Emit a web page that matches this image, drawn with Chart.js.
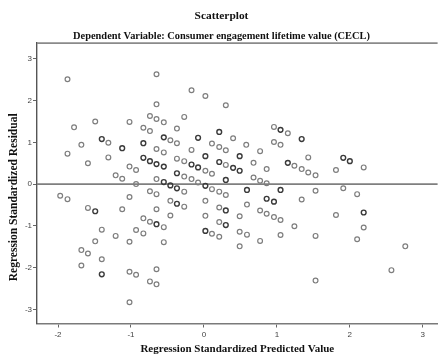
<!DOCTYPE html>
<html>
<head>
<meta charset="utf-8">
<script src="https://cdn.jsdelivr.net/npm/chart.js@4"></script>
<style>
html,body{margin:0;padding:0;background:#fff;}
#wrap{width:443px;height:360px;position:relative;}
</style>
</head>
<body>
<div id="wrap"><canvas id="c" width="443" height="360"></canvas></div>
<script>
// ---- Data (regression standardized predicted value vs. residual) ----
const lightX = [-1.87,-0.65,-0.65,-0.74,-0.65,-0.55,-1.78,-1.49,-1.02,-0.83,-0.74,-0.37,-1.31,-1.68,-0.46,-0.37,-1.87,-1.59,-1.31,-0.65,-0.55,-0.37,-1.02,-0.93,-1.21,-1.12,-0.65,-0.93,
  -0.17,0.02,0.30,-0.27,0.40,0.11,0.21,0.30,0.58,0.77,-0.17,-0.27,0.02,0.11,0.30,0.68,0.86,0.96,1.15,0.96,1.05,1.24,1.34,1.43,-0.27,-0.17,-0.08,0.68,0.77,0.86,
  -0.27,0.11,0.21,0.30,-0.46,-0.27,0.02,0.21,0.59,1.34,-0.46,0.02,0.21,0.49,0.77,0.86,0.96,1.05,1.24,0.11,0.21,0.49,0.59,1.05,0.49,0.77,
  -1.97,-1.87,-1.59,-1.02,-1.12,-0.74,-0.65,-0.65,-0.83,-0.74,-0.55,-1.40,-0.93,-0.83,-1.21,-1.49,-1.02,-0.55,-1.68,-1.59,-1.40,-1.68,-1.02,-0.93,-0.65,-0.74,-0.65,-1.02,
  1.43,1.53,1.81,2.19,1.53,1.91,2.10,1.81,2.19,1.53,2.10,2.76,2.57,1.53];
const lightY = [2.51,2.63,1.91,1.63,1.56,1.48,1.36,1.50,1.49,1.35,1.27,1.33,0.99,0.94,1.05,0.98,0.73,0.50,0.64,0.84,0.76,0.61,0.42,0.34,0.21,0.13,0.12,0.00,
  2.25,2.11,1.89,1.61,1.10,0.97,0.89,0.81,0.94,0.79,0.82,0.55,0.32,0.25,0.46,0.51,0.36,1.37,1.22,1.01,0.94,0.44,0.36,0.64,0.18,0.12,0.04,0.16,0.08,0.02,
  -0.18,-0.12,-0.18,-0.26,-0.40,-0.54,-0.40,-0.56,-0.49,-0.37,-0.75,-0.76,-0.91,-0.77,-0.63,-0.71,-0.79,-0.86,-1.01,-1.19,-1.26,-1.14,-1.21,-1.22,-1.49,-1.36,
  -0.28,-0.36,-0.57,-0.31,-0.60,-0.17,-0.24,-0.60,-0.82,-0.90,-1.03,-1.09,-1.10,-1.18,-1.24,-1.37,-1.38,-1.39,-1.58,-1.66,-1.80,-1.95,-2.10,-2.17,-2.04,-2.33,-2.40,-2.83,
  0.28,0.21,0.34,0.40,-0.16,-0.10,-0.24,-0.74,-1.04,-1.24,-1.32,-1.49,-2.06,-2.31];
const darkX = [-1.40,-0.55,-1.12,-0.83,-0.83,-0.74,-0.65,-0.55,-0.37,-0.55,-0.46,-0.37,-0.08,0.21,0.02,0.49,-0.17,-0.08,0.21,0.40,0.49,1.05,1.34,1.15,
  0.30,0.02,0.59,1.05,-0.37,0.30,0.86,0.96,0.30,0.02,-1.49,-0.65,-1.40,1.91,2.00,2.19];
const darkY = [1.08,1.12,0.86,0.98,0.63,0.55,0.48,0.42,0.26,0.05,-0.03,-0.10,1.11,1.25,0.67,0.67,0.47,0.40,0.53,0.39,0.32,1.30,1.08,0.51,
  0.10,-0.04,-0.14,-0.14,-0.47,-0.63,-0.35,-0.42,-0.98,-1.12,-0.65,-0.96,-2.16,0.63,0.55,-0.68];
const xTickValues = [-2,-1,0,1,2,3];
const yTickValues = [-3,-2,-1,0,1,2,3];
const titleText = 'Scatterplot';
const subtitleText = 'Dependent Variable: Consumer engagement lifetime value (CECL)';
const xTitle = 'Regression Standardized Predicted Value';
const yTitle = 'Regression Standardized Residual';

const toPoints = (xs, ys) => xs.map((x, i) => ({x: x, y: ys[i]}));

const framePlugin = {
  id: 'frame',
  beforeDatasetsDraw(chart) {
    const {ctx, chartArea, scales} = chart;
    ctx.save();
    // reference line at residual 0
    const y0 = scales.y.getPixelForValue(0);
    ctx.strokeStyle = '#7f7f7f';
    ctx.lineWidth = 1.6;
    ctx.beginPath();
    ctx.moveTo(chartArea.left, y0);
    ctx.lineTo(chartArea.right, y0);
    ctx.stroke();
    // top frame line
    ctx.strokeStyle = '#8a8a8a';
    ctx.lineWidth = 1.6;
    ctx.beginPath();
    ctx.moveTo(chartArea.left, chartArea.top);
    ctx.lineTo(chartArea.right, chartArea.top);
    ctx.stroke();
    ctx.restore();
  },
  afterDraw(chart) {
    const {ctx, chartArea} = chart;
    ctx.save();
    ctx.translate(14, (chartArea.top + chartArea.bottom) / 2 + 14);
    ctx.rotate(-Math.PI / 2);
    ctx.font = 'bold 11.5px "Liberation Serif"';
    ctx.fillStyle = '#111';
    ctx.textAlign = 'center';
    ctx.textBaseline = 'middle';
    ctx.fillText(yTitle, 0, 0);
    ctx.restore();
  }
};

new Chart(document.getElementById('c'), {
  type: 'scatter',
  data: {
    datasets: [
      {label: 'light', data: toPoints(lightX, lightY), pointStyle: 'circle', pointRadius: 2.4, pointBorderWidth: 1.2,
       borderColor: '#7e7e7e', backgroundColor: 'rgba(255,255,255,0)'},
      {label: 'dark', data: toPoints(darkX, darkY), pointStyle: 'circle', pointRadius: 2.4, pointBorderWidth: 1.4,
       borderColor: '#3a3a3a', backgroundColor: 'rgba(255,255,255,0)'}
    ]
  },
  options: {
    responsive: false,
    animation: false,
    devicePixelRatio: 1,
    layout: {padding: {left: 0, right: 0, top: 0, bottom: 0}},
    plugins: {
      legend: {display: false},
      tooltip: {enabled: false},
      title: {display: true, text: titleText, color: '#111',
        font: {family: '"Liberation Serif"', size: 11.4, weight: 'bold'}, padding: {top: 9, bottom: 7}},
      subtitle: {display: true, text: subtitleText, color: '#111',
        font: {family: '"Liberation Serif"', size: 10.4, weight: 'bold'}, padding: {top: 0, bottom: 1}}
    },
    scales: {
      x: {
        type: 'linear', min: -2.288, max: 3.203,
        afterFit(s) { s.height = 36.5; },
        afterBuildTicks(s) { s.ticks = xTickValues.map(v => ({value: v})); },
        ticks: {color: '#444', font: {family: '"Liberation Sans"', size: 8}, padding: 2, maxRotation: 0,
          callback: v => String(v)},
        grid: {drawOnChartArea: false, tickLength: 4, color: '#666', lineWidth: 1},
        border: {color: '#7a7a7a', width: 1.6},
        title: {display: true, text: xTitle, color: '#111',
          font: {family: '"Liberation Serif"', size: 11, weight: 'bold'}, padding: {top: 0, bottom: 4}}
      },
      y: {
        type: 'linear', min: -3.338, max: 3.376,
        afterFit(s) { s.width = 37; },
        afterBuildTicks(s) { s.ticks = yTickValues.map(v => ({value: v})); },
        ticks: {color: '#444', font: {family: '"Liberation Sans"', size: 8}, padding: 1,
          callback: v => String(v)},
        grid: {drawOnChartArea: false, tickLength: 4, color: '#666', lineWidth: 1},
        border: {color: '#555', width: 1.4},
        title: {display: false}
      }
    }
  },
  plugins: [framePlugin]
});
</script>
</body>
</html>
